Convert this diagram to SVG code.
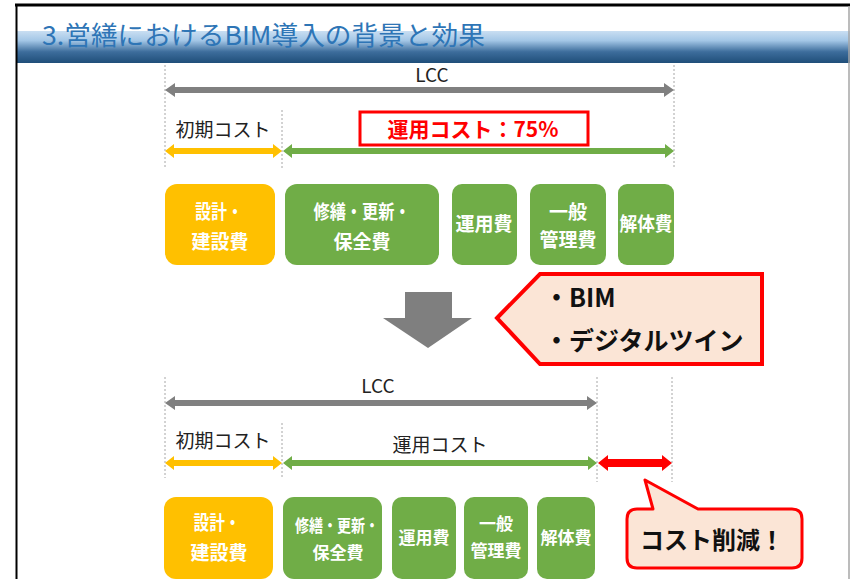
<svg xmlns="http://www.w3.org/2000/svg" width="850" height="579" viewBox="0 0 850 579">
<defs>
<linearGradient id="hdr" x1="0" y1="0" x2="0" y2="1">
<stop offset="0" stop-color="#c9def2"/>
<stop offset="0.3" stop-color="#a3c6e6"/>
<stop offset="0.65" stop-color="#3d6d9c"/>
<stop offset="1" stop-color="#1f4e79"/>
</linearGradient>
<style>
text{font-family:"Noto Sans CJK JP","Liberation Sans",sans-serif;}
.guide{stroke:#a6a6a6;stroke-width:1;stroke-dasharray:2 2;fill:none;}
.lbl{font-size:19px;fill:#222;text-anchor:middle;}
.box-y{fill:#ffc000;}
.box-g{fill:#70ad47;}
.bt{fill:#fff;font-weight:bold;text-anchor:middle;font-size:19px;}
.bt2{fill:#fff;font-weight:bold;text-anchor:middle;font-size:17px;}
</style>
</defs>
<rect width="850" height="579" fill="#fff"/>
<g id="frame">
<rect x="16" y="31" width="834" height="32" fill="url(#hdr)"/>
<line x1="15" y1="5" x2="850" y2="5" stroke="#000" stroke-width="3"/>
<line x1="16.5" y1="4" x2="16.5" y2="579" stroke="#000" stroke-width="2"/>
<line x1="849" y1="6" x2="849" y2="579" stroke="#a6a6a6" stroke-width="1.5"/>
<text x="42" y="45" font-size="26" fill="#2e75b6" textLength="443" lengthAdjust="spacingAndGlyphs">3.営繕におけるBIM導入の背景と効果</text>
</g>
<g id="guides">
<line class="guide" x1="165" y1="65" x2="165" y2="168"/>
<line class="guide" x1="282" y1="110" x2="282" y2="168"/>
<line class="guide" x1="674" y1="65" x2="674" y2="168"/>
<line class="guide" x1="165" y1="377" x2="165" y2="478"/>
<line class="guide" x1="282" y1="423" x2="282" y2="478"/>
<line class="guide" x1="597" y1="377" x2="597" y2="482"/>
<line class="guide" x1="672" y1="377" x2="672" y2="482"/>
</g>
<g id="connectors">
<polygon fill="#808080" points="165,90 175,83 175,87 664,87 664,83 674,90 664,97 664,93 175,93 175,97"/>
<polygon fill="#ffc000" points="165,151 174,144 174,148 273,148 273,144 282,151 273,158 273,154 174,154 174,158"/>
<polygon fill="#70ad47" points="283,151 292,144 292,148 665,148 665,144 674,151 665,158 665,154 292,154 292,158"/>
<polygon fill="#808080" points="165,403 175,396 175,400 587,400 587,396 597,403 587,410 587,406 175,406 175,410"/>
<polygon fill="#ffc000" points="165,463 174,456 174,460 273,460 273,456 282,463 273,470 273,466 174,466 174,470"/>
<polygon fill="#70ad47" points="283,463 292,456 292,460 588,460 588,456 597,463 588,470 588,466 292,466 292,470"/>
<polygon fill="#ff0000" points="598,463 608,455 608,459 662,459 662,455 672,463 662,471 662,467 608,467 608,471"/>
<polygon id="down-arrow" fill="#7f7f7f" points="405,292 452,292 452,318 472,318 428,348 383,318 405,318"/>
</g>
<g id="labels-top">
<text class="lbl" x="432" y="82">LCC</text>
<text class="lbl" x="223" y="137">初期コスト</text>
</g>
<g id="share-box">
<rect x="360" y="112" width="228" height="33" fill="#fff" stroke="#ff0000" stroke-width="3"/>
<text x="473" y="137" font-size="21" font-weight="bold" fill="#ff0000" text-anchor="middle">運用コスト：75%</text>
</g>
<g id="row1">
<g id="r1-design"><rect class="box-y" x="165" y="184" width="110" height="81" rx="12"/><text class="bt" x="219" y="219" textLength="48" lengthAdjust="spacingAndGlyphs">設計・</text><text class="bt" x="220" y="249">建設費</text></g>
<g id="r1-repair"><rect class="box-g" x="285" y="184" width="154" height="81" rx="12"/><text class="bt" x="362" y="219" textLength="97" lengthAdjust="spacingAndGlyphs">修繕・更新・</text><text class="bt" x="362" y="249">保全費</text></g>
<g id="r1-ops"><rect class="box-g" x="452" y="184" width="65" height="81" rx="10"/><text class="bt" x="484" y="231">運用費</text></g>
<g id="r1-admin"><rect class="box-g" x="530" y="184" width="76" height="81" rx="10"/><text class="bt" x="568" y="219">一般</text><text class="bt" x="568" y="247">管理費</text></g>
<g id="r1-demo"><rect class="box-g" x="618" y="184" width="56" height="81" rx="9"/><text class="bt" x="646" y="231" textLength="53" lengthAdjust="spacingAndGlyphs">解体費</text></g>
</g>
<g id="callout-bim">
<polygon points="497,318 540,274 762,274 762,364 540,364" fill="#fbe5d6" stroke="#ff0000" stroke-width="4" stroke-linejoin="miter"/>
<text x="544" y="307" font-size="25" font-weight="bold" fill="#111">・BIM</text>
<text x="544" y="350" font-size="25" font-weight="bold" fill="#111">・デジタルツイン</text>
</g>
<g id="labels-bottom">
<text class="lbl" x="378" y="393">LCC</text>
<text class="lbl" x="223" y="448">初期コスト</text>
<text class="lbl" x="440" y="452">運用コスト</text>
</g>
<g id="row2">
<g id="r2-design"><rect class="box-y" x="164" y="497" width="109" height="82" rx="12"/><text class="bt" x="217" y="530" textLength="47" lengthAdjust="spacingAndGlyphs">設計・</text><text class="bt" x="219" y="560">建設費</text></g>
<g id="r2-repair"><rect class="box-g" x="283" y="497" width="99" height="82" rx="11"/><text class="bt2" x="337" y="532" textLength="84" lengthAdjust="spacingAndGlyphs">修繕・更新・</text><text class="bt2" x="338" y="559">保全費</text></g>
<g id="r2-ops"><rect class="box-g" x="392" y="497" width="64" height="82" rx="10"/><text class="bt2" x="424" y="544">運用費</text></g>
<g id="r2-admin"><rect class="box-g" x="464" y="497" width="64" height="82" rx="10"/><text class="bt2" x="496" y="530">一般</text><text class="bt2" x="496" y="557">管理費</text></g>
<g id="r2-demo"><rect class="box-g" x="537" y="497" width="58" height="82" rx="10"/><text class="bt2" x="566" y="544">解体費</text></g>
</g>
<g id="callout-reduce">
<path d="M637,509 L653,509 L645,480 L698,509 L792,509 Q802,509 802,519 L802,558 Q802,568 792,568 L637,568 Q627,568 627,558 L627,519 Q627,509 637,509 Z" fill="#fbe5d6" stroke="#ff0000" stroke-width="3" stroke-linejoin="round"/>
<text x="712" y="549" font-size="24" font-weight="bold" fill="#111" text-anchor="middle">コスト削減！</text>
</g>
</svg>
